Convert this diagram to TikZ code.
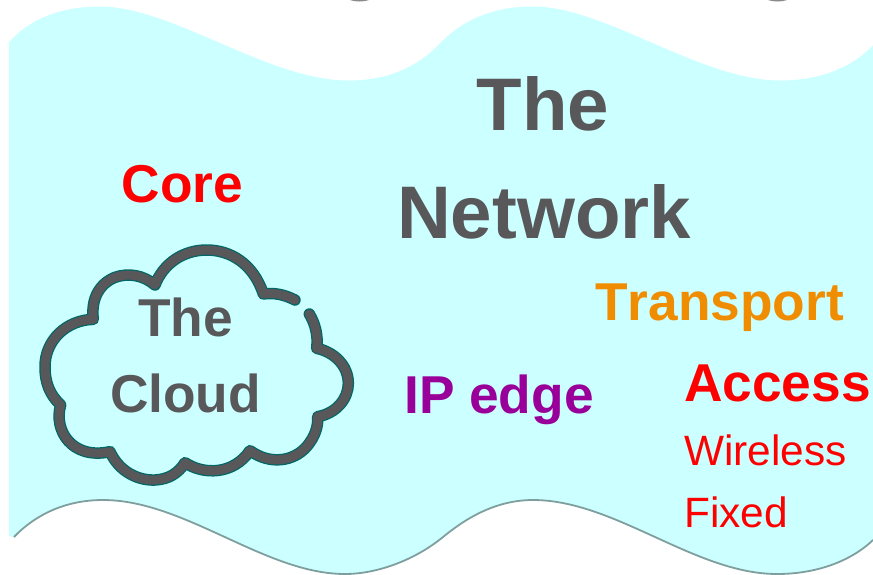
\documentclass[tikz,border=0pt]{standalone}
\usepackage{fontspec}
\setmainfont[Kerning=Off]{Liberation Sans}
\definecolor{wavefill}{HTML}{CCFFFF}
\definecolor{waveedge}{HTML}{7F9F9F}
\definecolor{inkgrey}{HTML}{58585A}
\definecolor{cloudedge}{HTML}{006666}
\definecolor{transportc}{HTML}{F08C00}
\definecolor{ipc}{HTML}{990099}
\newcommand{\cloudpathA}{(885,240) .. controls (850,222) and (820,218) .. (790,222)
 .. controls (760,130) and (690,90) .. (620,90)
 .. controls (550,90) and (490,130) .. (465,195)
 .. controls (430,165) and (385,158) .. (345,172)
 .. controls (300,190) and (272,235) .. (280,298)
 .. controls (200,300) and (135,360) .. (135,440)
 .. controls (135,490) and (150,525) .. (182,555)
 .. controls (160,630) and (215,720) .. (330,695)
 .. controls (360,760) and (420,782) .. (465,780)
 .. controls (505,778) and (535,760) .. (555,728)
 .. controls (610,765) and (700,765) .. (750,692)
 .. controls (810,735) and (880,725) .. (920,680)
 .. controls (945,650) and (955,620) .. (953,590)
 .. controls (1010,580) and (1045,535) .. (1045,490)
 .. controls (1045,435) and (1000,395) .. (950,385)
 .. controls (955,345) and (945,310) .. (928,282)}
\newcommand{\topwave}{(9,43) .. controls (32,17) and (65,7) .. (100,7)
 .. controls (172,7) and (268,81) .. (348,81)
 .. controls (385,81) and (415,70) .. (440,44)
 .. controls (465,18) and (497,7) .. (533,7)
 .. controls (605,7) and (700,81) .. (780,81)
 .. controls (817,81) and (850,70) .. (873,46)}
\newcommand{\bottomwave}{(14,537) .. controls (35,515) and (65,500) .. (103,500)
 .. controls (185,500) and (265,574) .. (345,574)
 .. controls (377,574) and (415,560) .. (443,537)
 .. controls (465,519) and (495,500) .. (533,500)
 .. controls (615,500) and (695,574) .. (777,574)
 .. controls (815,574) and (850,562) .. (873,540)}
\tikzset{
  bigword/.style={font=\bfseries\fontsize{74.5}{80}\selectfont,text=inkgrey,anchor=base,inner sep=0pt},
  cloudword/.style={font=\bfseries\fontsize{53.3}{60}\selectfont,text=inkgrey,anchor=base,inner sep=0pt},
  boldword/.style={font=\bfseries\fontsize{53.3}{60}\selectfont,anchor=base west,inner sep=0pt},
  plainword/.style={font=\fontsize{42.4}{48}\selectfont,text=red,anchor=base west,inner sep=0pt}
}
\begin{document}
\begin{tikzpicture}[x=1pt,y=-1pt]
\useasboundingbox (0,0) rectangle (873,574);
% band
\fill[wavefill] \topwave -- (873,540)
 .. controls (850,562) and (815,574) .. (777,574)
 .. controls (695,574) and (615,500) .. (533,500)
 .. controls (495,500) and (465,519) .. (443,537)
 .. controls (415,560) and (377,574) .. (345,574)
 .. controls (265,574) and (185,500) .. (103,500)
 .. controls (65,500) and (35,515) .. (14,537)
 -- (9,536) -- cycle;
\draw[wavefill,line width=1pt] \topwave;
\draw[waveedge,line width=1.8pt] \bottomwave;
% slivers at the top edge
\fill[inkgrey!70] (350,0) .. controls (355,2) and (364,2) .. (369,0) -- cycle;
\fill[inkgrey!70] (768,0) .. controls (773,2) and (782,2) .. (787,0) -- cycle;
% cloud
\begin{scope}[shift={(0,220)},scale=1/3]
\draw[cloudedge,line width=11.5pt,line cap=round,line join=round] \cloudpathA;
\draw[inkgrey,line width=9pt,line cap=round,line join=round] \cloudpathA;
\end{scope}
% text
\node[bigword] (the) at (543,130) {The};
\node[bigword] (network) at (544,238) {Network};
\node[boldword,text=red] (core) at (121.5,202) {Core};
\node[cloudword] (cthe) at (185.5,336) {The};
\node[cloudword] (ccloud) at (185.5,412) {Cloud};
\node[boldword,text=transportc] (transport) at (595,320) {Transport};
\node[boldword,text=ipc] (ip) at (404,413.5) {IP edge};
\node[boldword,text=red] (access) at (684,401) {Access};
\node[plainword] (wireless) at (684,465) {Wireless};
\node[plainword] (fixed) at (684,527) {Fixed};
\end{tikzpicture}
\end{document}
